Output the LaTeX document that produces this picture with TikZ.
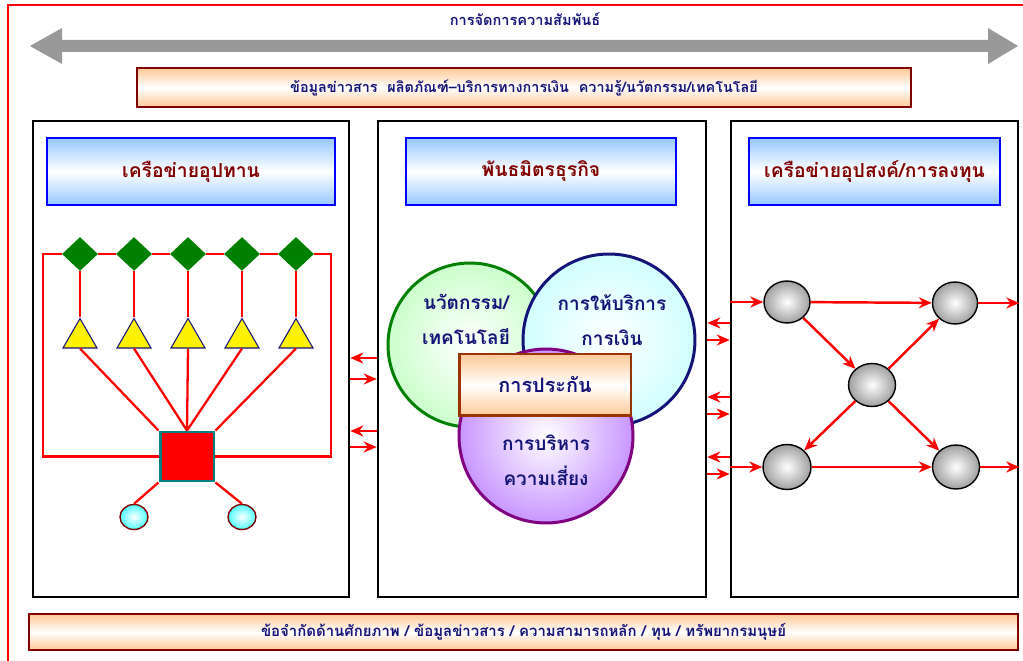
\documentclass[tikz,border=0pt]{standalone}
\usepackage{fontspec}
\newfontfamily\thai[Script=Thai]{Loma}
\usetikzlibrary{shapes.geometric,arrows.meta}
\definecolor{navytext}{RGB}{20,20,120}
\definecolor{darkred}{RGB}{128,0,0}
\definecolor{peach}{RGB}{255,200,150}
\definecolor{skyblue}{RGB}{150,200,255}
\definecolor{boxbrown}{RGB}{153,51,0}
\definecolor{sqteal}{RGB}{0,128,128}
\definecolor{lilac}{RGB}{200,150,255}
\definecolor{vennpurple}{RGB}{128,0,128}
\tikzset{
  panel/.style={draw=black, line width=1.5pt, minimum height=9.52cm},
  headbox/.style={draw=blue, line width=1.6pt, top color=skyblue, bottom color=skyblue, middle color=white,
    minimum height=1.34cm, text=darkred, font=\thai\fontsize{11}{13}\selectfont\bfseries},
  peachbox/.style={draw=darkred, line width=1.4pt, top color=peach, bottom color=peach, middle color=white, text=navytext},
  redline/.style={red, line width=1.3pt},
  redarr/.style={red, line width=1.4pt, -{Stealth[length=0.26cm,width=0.22cm]}},
  leaf/.style={diamond, fill=green!50!black, minimum width=0.72cm, minimum height=0.68cm, inner sep=0pt},
  tri/.style={regular polygon, regular polygon sides=3, draw=navytext, fill=yellow, line width=0.6pt, minimum size=0.786cm, inner sep=0pt},
  bead/.style={ellipse, draw=darkred, line width=0.8pt, inner color=white, outer color=cyan!70, minimum width=0.56cm, minimum height=0.5cm, inner sep=0pt},
  hub/.style={ellipse, draw=black, line width=0.8pt, inner color=white, outer color=gray!75, inner sep=0pt},
  venn/.style={circle, line width=1.7pt, inner color=white, inner sep=0pt},
  venntext/.style={align=center, text=navytext, font=\thai\fontsize{10.8}{20}\selectfont\bfseries}
}
\begin{document}
\begin{tikzpicture}[x=0.02cm,y=-0.02cm]
\useasboundingbox (0,0) rectangle (1023,661);
\draw[red, line width=1.2pt] (8,670) -- (8,5) -- (1030,5);
\node[text=navytext, font=\thai\fontsize{8.3}{10}\selectfont\bfseries] (rel) at (525,19) {การจัดการความสัมพันธ์};
\fill[gray!80] (30,46) -- (62,28) -- (62,40) -- (988,40) -- (988,28) -- (1018,46) -- (988,64) -- (988,52) -- (62,52) -- (62,64) -- cycle;
\node[peachbox, minimum width=15.48cm, minimum height=0.78cm, font=\thai\fontsize{8.2}{10}\selectfont\bfseries] (info) at (524,87.5) {ข้อมูลข่าวสาร\ \ ผลิตภัณฑ์–บริการทางการเงิน\ \ ความรู้/นวัตกรรม/เทคโนโลยี};

\node[panel, minimum width=6.32cm] (lp) at (191,359) {};
\node[panel, minimum width=6.56cm] (mp) at (542,359) {};
\node[panel, minimum width=5.74cm] (rp) at (874.5,359) {};
\node[headbox, minimum width=5.76cm] (lh) at (191,171.5) {เครือข่ายอุปทาน};
\node[headbox, minimum width=5.4cm] (mh) at (541,171.5) {พันธมิตรธุรกิจ};
\node[headbox, minimum width=5.02cm] (rh) at (874.5,171.5) {เครือข่ายอุปสงค์/การลงทุน};

\node[leaf] (d1) at (80,254) {};
\node[leaf] (d2) at (134,254) {};
\node[leaf] (d3) at (188,254) {};
\node[leaf] (d4) at (242,254) {};
\node[leaf] (d5) at (296,254) {};
\node[tri] (t1) at (80,338.2) {};
\node[tri] (t2) at (134,338.2) {};
\node[tri] (t3) at (188,338.2) {};
\node[tri] (t4) at (242,338.2) {};
\node[tri] (t5) at (296,338.2) {};
\node[rectangle, draw=sqteal, fill=red, line width=1.7pt, minimum width=1.08cm, minimum height=0.98cm] (sq) at (187,456.5) {};
\node[bead] (c1) at (134,517) {};
\node[bead] (c2) at (242,517) {};
\coordinate (ltop) at (43,254);
\coordinate (rtop) at (331,254);
\draw[redline] (sq.west) -| (ltop) -- (d1);
\draw[redline] (d1) -- (d2);
\draw[redline] (d2) -- (d3);
\draw[redline] (d3) -- (d4);
\draw[redline] (d4) -- (d5);
\draw[redline] (d5) -- (rtop) |- (sq.east);
\draw[redline] (d1) -- (t1);
\draw[redline] (d2) -- (t2);
\draw[redline] (d3) -- (t3);
\draw[redline] (d4) -- (t4);
\draw[redline] (d5) -- (t5);
\draw[redline] (t1.south) -- (sq.north west);
\draw[redline] (t2.south) -- (sq.north);
\draw[redline] (t3.south) -- (sq.north);
\draw[redline] (t4.south) -- (sq.north);
\draw[redline] (t5.south) -- (sq.north east);
\draw[redline] (sq.south west) -- (c1.north);
\draw[redline] (sq.south east) -- (c2.north);

\draw[redarr] (mp.west |- 0,358) -- (lp.east |- 0,358);
\draw[redarr] (lp.east |- 0,379) -- (mp.west |- 0,379);
\draw[redarr] (mp.west |- 0,431) -- (lp.east |- 0,431);
\draw[redarr] (lp.east |- 0,447) -- (mp.west |- 0,447);
\draw[redarr] (rp.west |- 0,323) -- (mp.east |- 0,323);
\draw[redarr] (mp.east |- 0,340) -- (rp.west |- 0,340);
\draw[redarr] (rp.west |- 0,397) -- (mp.east |- 0,397);
\draw[redarr] (mp.east |- 0,414) -- (rp.west |- 0,414);
\draw[redarr] (rp.west |- 0,457) -- (mp.east |- 0,457);
\draw[redarr] (mp.east |- 0,474) -- (rp.west |- 0,474);

\node[venn, draw=green!50!black, outer color=green!20, minimum size=3.28cm] (gc) at (470,345) {};
\node[venn, draw=navytext, outer color=cyan!18, minimum size=3.44cm] (bc) at (609,340) {};
\node[venn, draw=vennpurple, outer color=lilac, minimum size=3.48cm] (pc) at (546,436) {};
\node[peachbox, draw=boxbrown, line width=1.7pt, minimum width=3.44cm, minimum height=1.24cm, font=\thai\fontsize{11.3}{13}\selectfont\bfseries] (ins) at (545,385) {การประกัน};
\node[venntext] (gt) at (466,319) {นวัตกรรม/\\เทคโนโลยี};
\node[venntext] (bt) at (612,320) {การให้บริการ\\การเงิน};
\node[venntext] (pt) at (546,460) {การบริหาร\\ความเสี่ยง};

\node[hub, minimum width=0.92cm, minimum height=0.84cm] (n1) at (787,302) {};
\node[hub, minimum width=0.9cm, minimum height=0.84cm] (n2) at (955,303) {};
\node[hub, minimum width=0.94cm, minimum height=0.86cm] (n3) at (872,385) {};
\node[hub, minimum width=0.96cm, minimum height=0.9cm] (n4) at (787,467) {};
\node[hub, minimum width=0.94cm, minimum height=0.88cm] (n5) at (956,467) {};
\draw[redarr] (rp.west |- n1) -- (n1);
\draw[redarr] (rp.west |- n4) -- (n4);
\draw[redarr] (n1) -- (n2);
\draw[redarr] (n1) -- (n3);
\draw[redarr] (n3) -- (n2);
\draw[redarr] (n3) -- (n4);
\draw[redarr] (n3) -- (n5);
\draw[redarr] (n4) -- (n5);
\draw[redarr] (n2) -- (rp.east |- n2);
\draw[redarr] (n5) -- (rp.east |- n5);

\node[peachbox, minimum width=19.78cm, minimum height=0.72cm, font=\thai\fontsize{8.5}{10}\selectfont\bfseries] (limit) at (523.5,632) {ข้อจำกัดด้านศักยภาพ / ข้อมูลข่าวสาร / ความสามารถหลัก / ทุน / ทรัพยากรมนุษย์};
\end{tikzpicture}
\end{document}
